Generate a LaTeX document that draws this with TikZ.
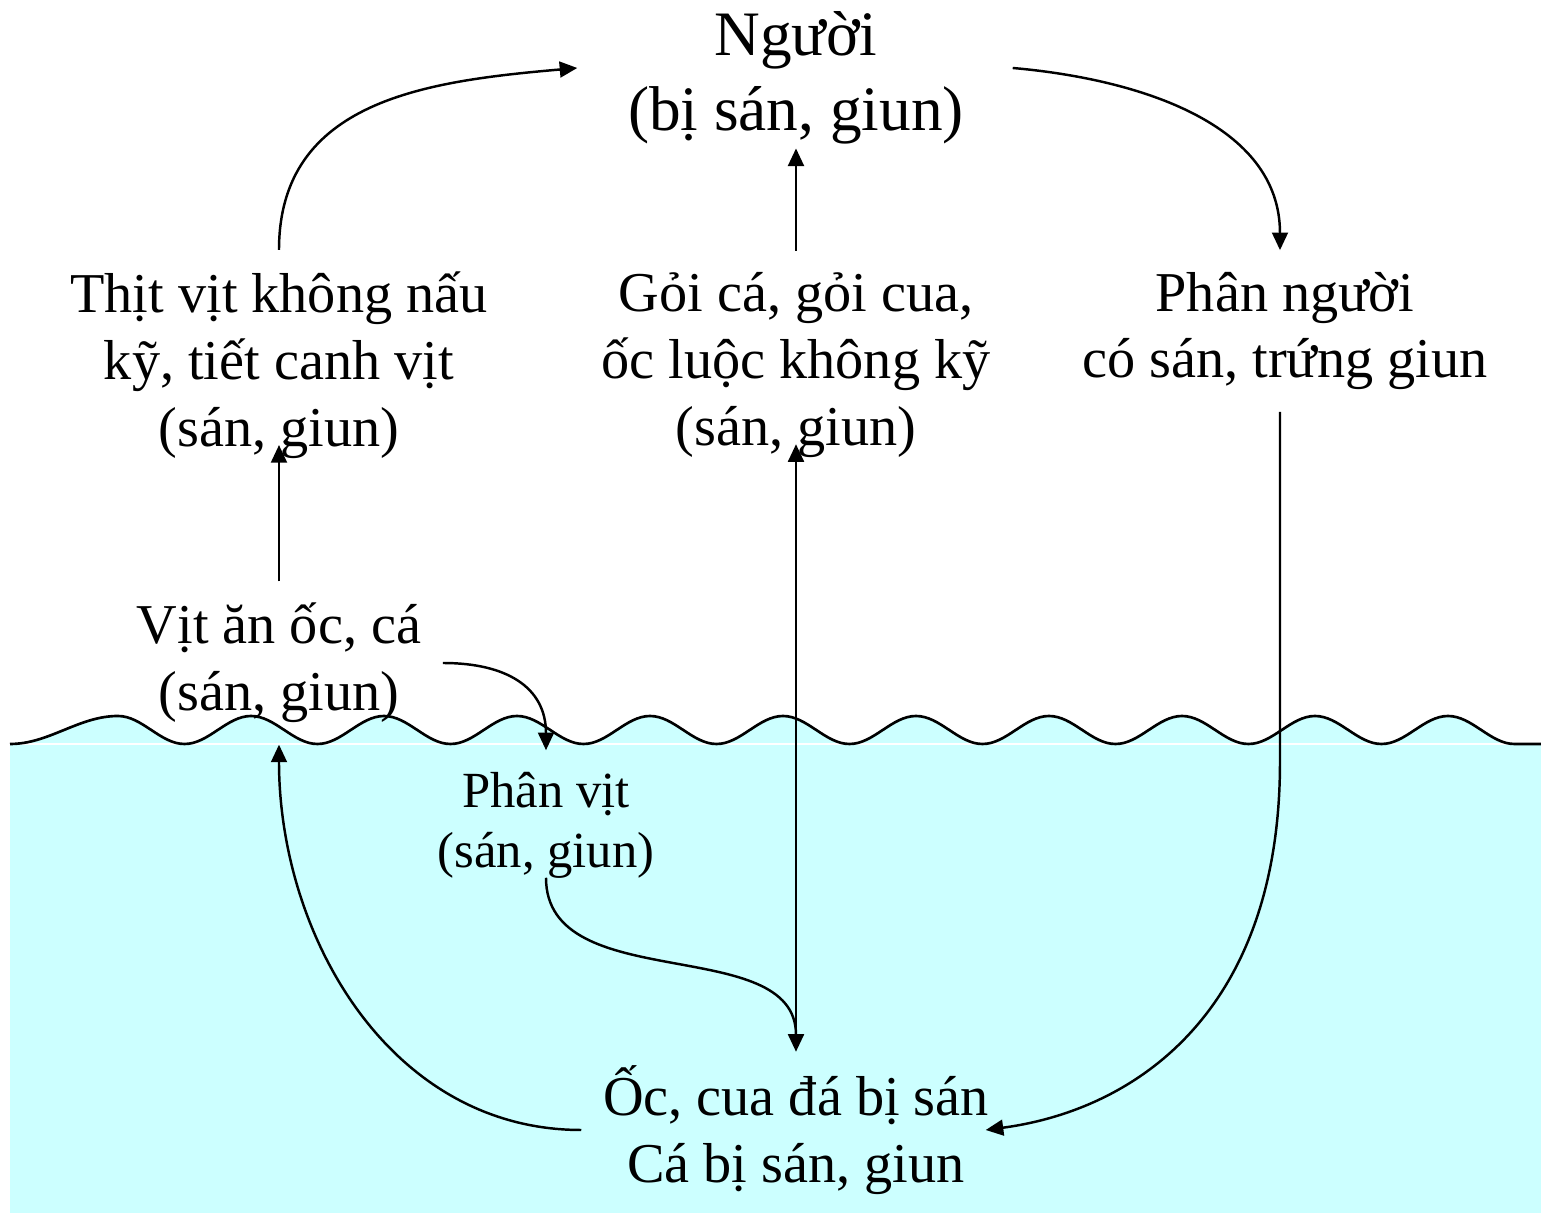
\documentclass[tikz,border=0pt]{standalone}
\usepackage{fontspec}
\setmainfont{Liberation Serif}
\usepackage{xcolor}
\definecolor{watercyan}{RGB}{204,255,255}
\usetikzlibrary{arrows.meta}
\newcommand{\waterline}{(10,744) cos (64,730) sin (118,716)
  \foreach \c in {118,251,...,1315} {cos (\c+33.25,730) sin (\c+66.5,744) cos (\c+99.75,730) sin (\c+133,716)}
  cos (1481.25,730) sin (1514.5,744) -- (1541,744)}

\begin{document}
\begin{tikzpicture}[x=0.01cm, y=-0.01cm,
  host/.style={align=center, font=\fontsize{18}{21.5}\selectfont, inner sep=6pt},
  stage/.style={align=center, font=\fontsize{16}{19}\selectfont, inner sep=6pt},
  dung/.style={align=center, font=\fontsize{14.4}{17}\selectfont, inner sep=6pt},
  arr/.style={-{Triangle[length=5pt,width=4.5pt]}, line width=0.7pt}
]
\useasboundingbox (0,0) rectangle (1541,1213);

% water
\fill[watercyan] \waterline -- (1541,1213) -- (10,1213) -- cycle;
\draw[white, line width=0.7pt] (10,744) -- (1541,744);
\draw[line width=0.75pt] \waterline;

\node[host] (nguoi) at (796,78) {Người\\(bị sán, giun)};
\node[stage] (thit) at (279,365) {Thịt vịt không nấu\\kỹ, tiết canh vịt\\(sán, giun)};
\node[stage] (goi) at (796,365) {Gỏi cá, gỏi cua,\\ốc luộc không kỹ\\(sán, giun)};
\node[stage] (phann) at (1285,331) {Phân người\\có sán, trứng giun};
\node[stage] (vit) at (279,663) {Vịt ăn ốc, cá\\(sán, giun)};
\node[dung] (phanv) at (546,825) {Phân vịt\\(sán, giun)};
\node[stage] (oc) at (796,1130) {Ốc, cua đá bị sán\\Cá bị sán, giun};

\draw[arr] (thit.north) to[out=90,in=185,looseness=1.1] ([xshift=-0.29cm,yshift=0.1cm]nguoi.west);
\draw[arr] (goi.north) -- ([yshift=0.18cm]nguoi.south);
\draw[arr] ([xshift=0.27cm,yshift=0.1cm]nguoi.east) to[out=-5,in=90] ([xshift=-0.05cm]phann.north);
\draw[arr] (vit.north) -- ([yshift=0.35cm]thit.south);
\draw[arr] (vit.east) to[out=0,in=90,looseness=1.2] (phanv.north);
\draw[arr] ([yshift=0.22cm]phanv.south) to[out=-90,in=90] ([yshift=-0.08cm]oc.north);
\draw[arr] ([yshift=-0.04cm]oc.north) -- ([yshift=0.35cm]goi.south);
\draw[arr] (oc.west) to[out=180,in=-90] (vit.south);
\draw[arr] ([xshift=-0.05cm]phann.south) -- ++(0,350) .. controls +(0,250) and +(150,-20) .. ([xshift=-0.25cm]oc.east);

\end{tikzpicture}
\end{document}
